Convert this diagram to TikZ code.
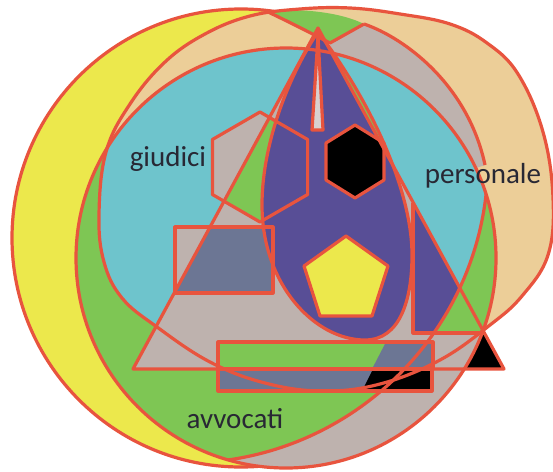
\documentclass[tikz,border=0pt]{standalone}
\usepackage{fontspec}
\setmainfont{Carlito}
\usepackage{tikz}
\definecolor{vyellow}{RGB}{236,232,76}
\definecolor{vgreen}{RGB}{126,198,84}
\definecolor{vcyan}{RGB}{110,196,204}
\definecolor{vtan}{RGB}{236,206,152}
\definecolor{vgrey}{RGB}{190,178,174}
\definecolor{vpurple}{RGB}{88,78,150}
\definecolor{vslate}{RGB}{108,118,148}
\definecolor{vspike}{RGB}{216,208,208}
\definecolor{vred}{RGB}{232,84,62}
\definecolor{vtext}{RGB}{40,40,52}

% main shapes, image coordinates
\newcommand{\bigbox}{(-20,-20) rectangle (600,500)}
\newcommand{\circY}{(241,238) circle (229)}
\newcommand{\circQ}{(286,258) circle (210)}
\newcommand{\circZ}{(185,160) circle (303)}
\newcommand{\shapeP}{plot[smooth cycle, tension=0.65] coordinates {(99,215) (104,262) (122,298) (157,327) (210,362) (265,383) (322,391) (380,384) (440,360) (490,325) (522,296) (548,255) (553,198) (543,132) (518,74) (487,43) (450,24) (400,14) (350,8) (300,9) (250,16) (205,34) (165,62) (130,104) (106,152)}}
\newcommand{\triT}{(318,28) -- (504,369) -- (133,369) -- cycle}
\newcommand{\dropE}{(318,32) .. controls (292,70) and (262,140) .. (262,205) .. controls (262,285) and (315,340) .. (365,340) .. controls (400,340) and (412,300) .. (412,255) .. controls (412,190) and (370,100) .. (318,32) -- cycle}
\newcommand{\hexA}{(260,112) -- (307.6,139.5) -- (307.6,194.5) -- (260,222) -- (212.4,194.5) -- (212.4,139.5) -- cycle}
\newcommand{\hexB}{(355,125) -- (384,143) -- (384,180) -- (355,198) -- (326,180) -- (326,143) -- cycle}
\newcommand{\pentC}{(346,236) -- (388,266) -- (372,316) -- (320,316) -- (304,266) -- cycle}
\newcommand{\spikeD}{(318,36) -- (323,130) -- (312,130) -- cycle}
\newcommand{\patchG}{(266,11) .. controls (300,8) and (340,12) .. (364,24) -- (330,43) .. controls (305,30) and (285,20) .. (266,11) -- cycle}
\newcommand{\bandS}{(364,24) .. controls (405,38) and (468,85) .. (485,165)}

\begin{document}
\begin{tikzpicture}[
    x=1pt, y=-1pt,
    outline/.style={draw=vred, line width=3.2pt, line join=round},
    setname/.style={font=\fontsize{29pt}{30pt}\selectfont, text=vtext, inner sep=0pt, anchor=base},
]
\useasboundingbox (0,0) rectangle (553,471);
\fill[white] (0,0) rectangle (553,471);

% Outer sets
\fill[vyellow] \circY;
\fill[vtan] \shapeP;
\fill[vgreen] \patchG;
\fill[vgrey] \bandS -- (440,180) -- (330,60) -- (330,43) -- cycle;
\fill[vgrey] \circQ;
\begin{scope}
  \clip \circQ;
  \fill[vgreen] \circZ;
  \fill[vgreen] \shapeP;
  \clip \shapeP;
  \fill[vcyan] \circZ;
\end{scope}

% Inner shapes
\fill[vgrey] \hexA;
\fill[vgreen] \dropE;
\fill[vgrey] (175,227) rectangle (273,293);
\fill[vgrey] \triT;
\begin{scope}
  \clip \triT;
  \fill[vgreen] \hexA;
  \fill[vslate] (175,227) rectangle (273,293);
  \fill[vpurple] \dropE;
  \fill[vgreen] (413,150) rectangle (560,333);
  \clip \circZ;
  \fill[vpurple] (413,150) rectangle (560,333);
\end{scope}
\begin{scope}
  \clip \triT;
  \begin{scope}[even odd rule]
    \clip \bigbox \circQ;
    \fill[black] (400,300) rectangle (560,400);
  \end{scope}
\end{scope}
\fill[vspike] \spikeD;
\fill[black] \hexB;
\fill[vyellow] \pentC;

% Bars at the bottom
\fill[vgreen] (218,342) rectangle (433,369);
\fill[vslate] (372,369) -- (386,342) -- (433,342) -- (433,369) -- cycle;
\fill[vslate] (218,369) rectangle (432,391);
\fill[black] (362,391) -- (372,371) -- (432,371) -- (432,391) -- cycle;

% Outlines
\begin{scope}[even odd rule]
  \clip \bigbox \shapeP;
  \begin{scope}[even odd rule]
    \clip \bigbox \circQ;
    \draw[outline] \circY;
  \end{scope}
\end{scope}
\draw[outline] \shapeP;
\draw[outline] \circQ;
\begin{scope}
  \clip \circQ;
  \draw[outline] \circZ;
\end{scope}
\draw[outline] \bandS;
\draw[outline] (364,24) -- (330,43) .. controls (305,30) and (285,20) .. (266,11);
\draw[outline] \hexA;
\draw[outline] (175,227) rectangle (273,293);
\draw[outline] \triT;
\draw[outline] \dropE;
\draw[outline] (413,203) -- (413,333) -- (484,333);
\draw[outline] \spikeD;
\draw[outline] \hexB;
\draw[outline] \pentC;
\draw[outline] (218,342) rectangle (433,369);
\draw[outline] (218,369) rectangle (432,391);

% Set names
\node[setname] (giudici) at (168,166) {giudici};
\node[setname] (personale) at (483,183) {personale};
\node[setname] (avvocati) at (235,428) {avvocati};

\end{tikzpicture}
\end{document}
